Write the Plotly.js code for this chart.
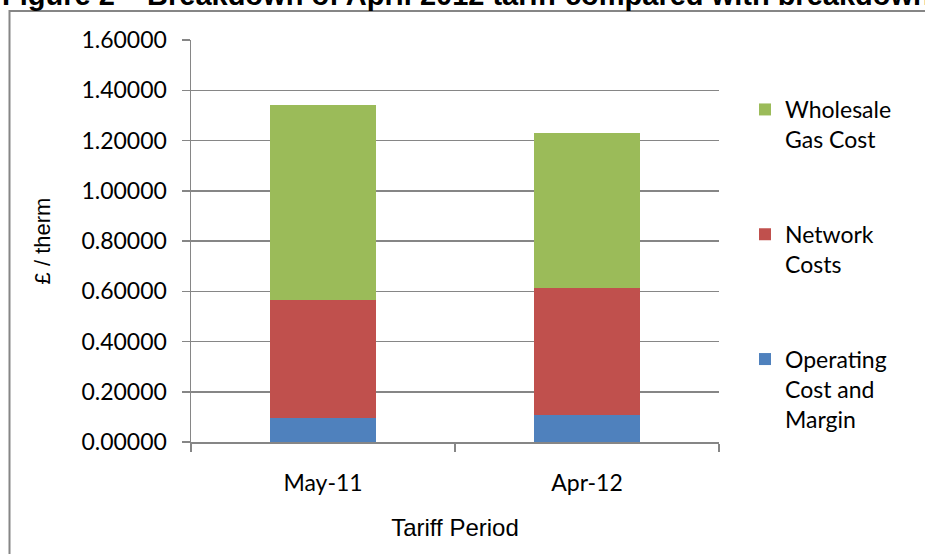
<!DOCTYPE html>
<html>
<head>
<meta charset="utf-8">
<script src="https://cdn.plot.ly/plotly-3.0.1.min.js"></script>
<style>html,body{margin:0;padding:0;background:#fff;}#chart{width:925px;height:554px;}</style>
</head>
<body>
<div id="chart"></div>
<script>
const categories = ["May-11", "Apr-12"];
const operatingCost = [0.097, 0.106];
const networkCosts = [0.470, 0.507];
const wholesaleGas = [0.776, 0.615];
const seriesNames = ["Operating<br>Cost and<br>Margin", "Network<br>Costs", "Wholesale<br>Gas Cost"];
const yTicks = [0, 0.2, 0.4, 0.6, 0.8, 1.0, 1.2, 1.4, 1.6];
const titleText = "Figure 2 – Breakdown of April 2012 tariff compared with breakdown of May 2011 tariff";

const colors = ["#4F81BD", "#C0504D", "#9BBB59"];
const values = [operatingCost, networkCosts, wholesaleGas];
const traces = values.map((v, i) => ({
  type: "bar",
  x: categories,
  y: v,
  name: seriesNames[i],
  legendgroup: "g" + i,
  legendrank: 3 - i,
  marker: {color: colors[i], line: {width: 0}},
  hoverinfo: "skip"
}));

const W = 925, H = 554;
const m = {l: 191, r: 206, t: 40, b: 112};
const pw = W - m.l - m.r, ph = H - m.t - m.b;
const px2x = p => (p - m.l) / pw;
const py2y = p => (H - m.b - p) / ph;

const layout = {
  width: W, height: H,
  margin: m,
  paper_bgcolor: "#ffffff",
  plot_bgcolor: "#ffffff",
  barmode: "stack",
  bargap: 0.6,
  showlegend: true,
  font: {family: "Lato, Calibri, sans-serif", color: "#000000", size: 23},
  legend: {
    x: px2x(745), xanchor: "left",
    y: py2y(88), yanchor: "top",
    traceorder: "grouped",
    tracegroupgap: 62,
    valign: "top",
    itemwidth: 30,
    font: {family: "Lato, Calibri, sans-serif", size: 23, color: "#000"},
    bgcolor: "rgba(0,0,0,0)"
  },
  xaxis: {
    type: "category",
    showline: true, linecolor: "#868686", linewidth: 1.5,
    ticks: "outside", ticklen: 8, tickcolor: "#868686", tickwidth: 1.5,
    tickson: "boundaries",
    showgrid: false,
    tickfont: {family: "Lato, Calibri, sans-serif", size: 23},
    ticklabelstandoff: 20,
    title: {text: "Tariff Period", font: {family: "Liberation Sans, Arial, sans-serif", size: 24}, standoff: 24}
  },
  yaxis: {
    range: [0, 1.6],
    tickvals: yTicks,
    tickformat: ".5f",
    showline: true, linecolor: "#868686", linewidth: 1.5,
    ticks: "outside", ticklen: 8, tickcolor: "#868686", tickwidth: 1.5,
    showgrid: true, gridcolor: "#868686", gridwidth: 1.5,
    zeroline: false,
    tickfont: {family: "Lato, Calibri, sans-serif", size: 23},
    ticklabelstandoff: 10,
    title: {text: "£ / therm", font: {family: "Liberation Sans, Arial, sans-serif", size: 22}, standoff: 24}
  },
  annotations: [{
    text: "<b>" + titleText + "</b>",
    xref: "paper", yref: "paper",
    x: px2x(0), xanchor: "left",
    y: py2y(8), yanchor: "bottom", yshift: -5,
    showarrow: false,
    font: {family: "Liberation Sans, Arial, sans-serif", size: 29, color: "#000"}
  }],
  shapes: [{
    type: "rect", xref: "paper", yref: "paper",
    x0: px2x(9.5), x1: px2x(1000), y0: py2y(11), y1: py2y(700),
    line: {color: "#868686", width: 2}, fillcolor: "rgba(0,0,0,0)", layer: "below"
  }]
};

Plotly.newPlot("chart", traces, layout, {staticPlot: true, displayModeBar: false});
</script>
</body>
</html>
